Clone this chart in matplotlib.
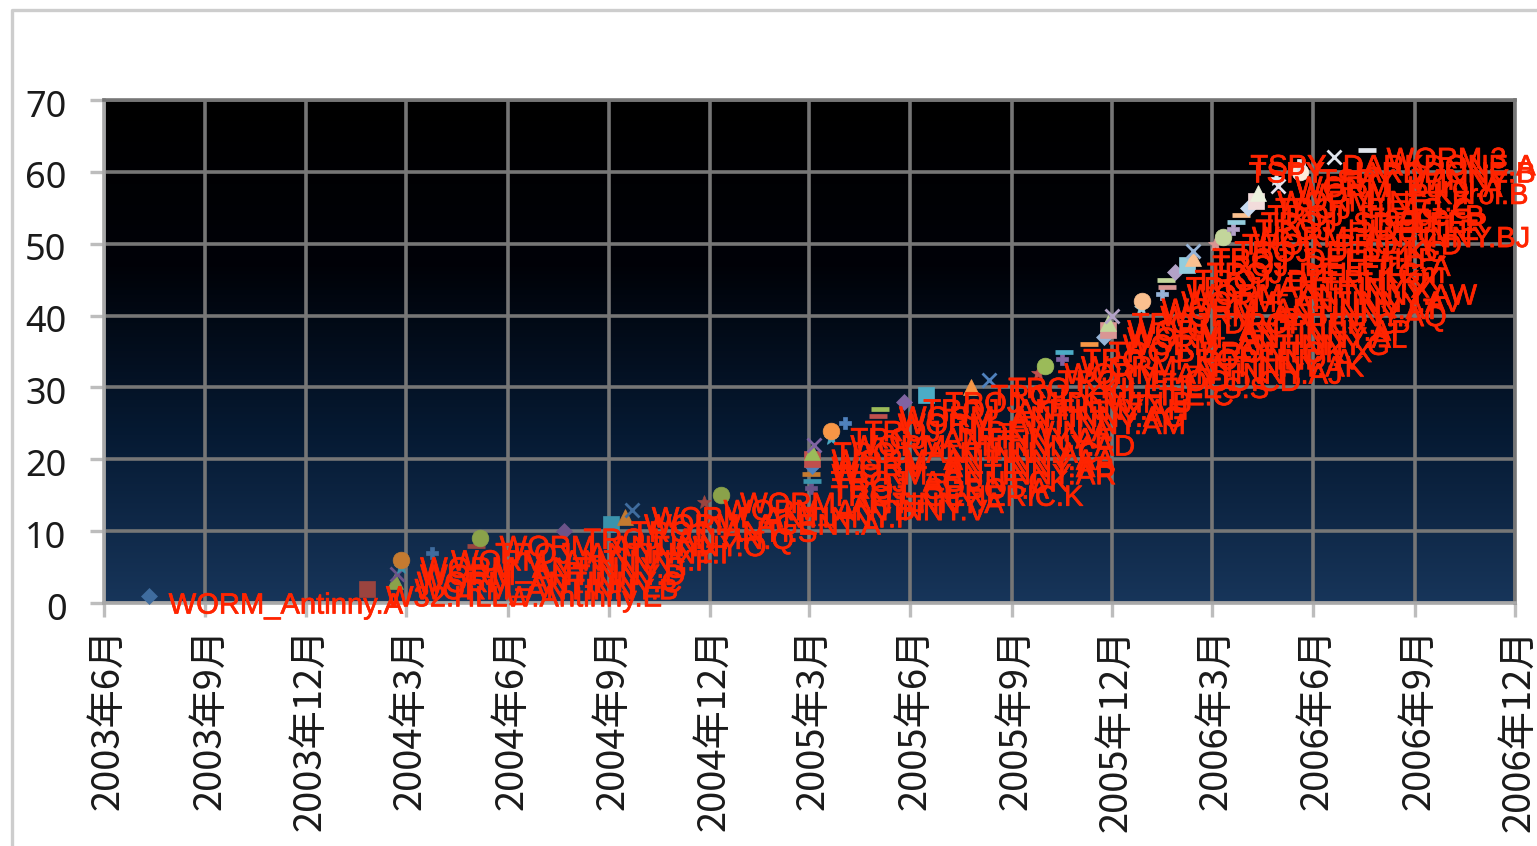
import matplotlib
matplotlib.use("Agg")
import matplotlib.pyplot as plt
import matplotlib.dates as mdates
import matplotlib.patheffects as pe
from matplotlib.transforms import ScaledTranslation
import numpy as np
import datetime as dt
from matplotlib.lines import Line2D
from matplotlib.colors import LinearSegmentedColormap

# Cumulative count of detected variants, one named sample per step
sample_names = [
    "WORM_Antinny.A", "W32.HLLW.Antinny.E", "WORM_ANTINNY.B", "WORM_ANTINNY.C", "WORM_ANTINNY.D",
    "WORM_ANTINNY.G", "WORM_ANTINNY.F", "TROJ_ANTINNY.I", "WORM_ANTINNY.O", "TROJ_ANTIN.Q",
    "TROJ_ANTI.S", "WORM_AGENT.A", "WORM_ANTINNY.P", "WORM_ANTINNY.V", "WORM_ANTINNY.A",
    "TROJ_GENERIC.K", "TROJ_SDBOT.A", "TROJ_AGENT.CK", "WORM_ANTINNY.AR", "WORM_ANTINNY.AB",
    "WORM_ANTINNY.AA", "TROJ_ANTINNY.AC", "WORM_ANTINNY.AD", "TROJ_ANTINNY.AE", "TROJ_HIDEWIN.A",
    "WORM_ANTINNY.AM", "WORM_ANTINNY.AG", "TROJ_ANTINNY.AH", "TROJ_HIDEWIN.B", "TROJ_KILLFILE.C",
    "TROJ_KILLFILES.S", "TROJ_FLOOD.CD", "WORM_ANTINNY.AJ", "WORM_ANTINNY.AK", "TROJ_PROPFIND.A",
    "TROJ_BRONTOK.X", "WORM_ANTINNY.G", "WORM_ANTINNY.AL", "WORM_ANTINNY.AP", "TROJ_DROPPER.G",
    "WORM_ANTINNY.AQ", "WORM_ANTINNY.AT", "WORM_ANTINNY.AV", "WORM_ANTINNY.AW", "TROJ_ANTINNY.X",
    "TROJ_DELPHI.KX", "TROJ_DELF.KGm", "TROJ_DELFILE.A", "TROJ_DELPHI.P", "TROJ_DELF.KC",
    "TROJ_PROXY.D", "WORM_ANTINNY.BJ", "TROJ_HIDEFILE", "TROJ_SDELFER", "TROJ_Flagger.B",
    "TROJ_FLAG.C", "WORM_NET.Z", "WORM_P.Kuroi.B", "WORM_Kuroi.A", "TSPY_WINNY",
    "TSPY_HARDDONE.B", "TSPY_DARKDONE.A", "WORM.3",
]
sample_dates = [
    "2003-07-12", "2004-01-25", "2004-02-20", "2004-02-22", "2004-02-25", "2004-02-25", "2004-03-24",
    "2004-05-03", "2004-05-07", "2004-07-22", "2004-09-03", "2004-09-15", "2004-09-22", "2004-11-26",
    "2004-12-11", "2005-03-03", "2005-03-04", "2005-03-03", "2005-03-04", "2005-03-04", "2005-03-04",
    "2005-03-06", "2005-03-21", "2005-03-21", "2005-04-03", "2005-05-03", "2005-05-04", "2005-05-26",
    "2005-06-15", "2005-07-26", "2005-08-11", "2005-09-25", "2005-10-01", "2005-10-16", "2005-10-18",
    "2005-11-10", "2005-11-23", "2005-11-27", "2005-11-27", "2005-12-01", "2005-12-27", "2005-12-28",
    "2006-01-15", "2006-01-20", "2006-01-19", "2006-01-27", "2006-02-07", "2006-02-12", "2006-02-12",
    "2006-03-04", "2006-03-11", "2006-03-20", "2006-03-23", "2006-03-28", "2006-04-03", "2006-04-10",
    "2006-04-12", "2006-04-30", "2006-04-28", "2006-05-20", "2006-05-19", "2006-06-20", "2006-07-20",
]
sample_counts = list(range(1, 64))

tick_months = [
    "2003-06", "2003-09", "2003-12", "2004-03", "2004-06", "2004-09", "2004-12", "2005-03",
    "2005-06", "2005-09", "2005-12", "2006-03", "2006-06", "2006-09", "2006-12",
]
y_ticks = [0, 10, 20, 30, 40, 50, 60, 70]

# Spreadsheet-style marker cycle and its colour ramps, lighter on each pass
marker_cycle = ["D", "s", "^", "x", "*", "o", "P", "_", "_", "D", "s", "^", "x", "*", "o", "P", "_", "_"]
marker_overrides = {9: "o", 62: "x"}
ramps = [
    ["#3f6c9e", "#9a443f", "#8aa24a", "#6b5389", "#3a93ac", "#c47a30"],
    ["#4f81bd", "#c0504d", "#9bbb59", "#8064a2", "#4bacc6", "#f79646"],
    ["#95b3d7", "#d99694", "#c3d69b", "#b3a2c7", "#93cddd", "#fac08f"],
    ["#c6d9f0", "#f2dcdb", "#ebf1dd", "#e5e0ec", "#dbeef3", "#fde9d9"],
]
marker_sizes = {"o": 12, "s": 11, "^": 11, "D": 8, "x": 10, "*": 10, "P": 9, "_": 13}
marker_edges = {"_": 3.4, "x": 2.0}

W, H = 1537, 846
L, R, T, B = 104, 1515, 100, 603
LABEL_LIMIT = 1535
LABEL_DX, LABEL_DY = 14, -7

plt.rcParams["font.family"] = ["Noto Sans CJK JP", "DejaVu Sans"]
fig = plt.figure(figsize=(W / 100, H / 100), dpi=100, facecolor="white")
ax = fig.add_axes([L / W, 1 - B / H, (R - L) / W, (B - T) / H])

dates = [dt.date.fromisoformat(d) for d in sample_dates]
tick_dates = [dt.date.fromisoformat(m + "-01") for m in tick_months]

# Dark vertical gradient behind the plot
cmap = LinearSegmentedColormap.from_list("night", ["#000000", "#000208", "#061a33", "#17355a"], N=256)
ax.imshow(np.linspace(0, 1, 256).reshape(-1, 1), cmap=cmap, aspect="auto", zorder=0,
          extent=(0, 1, 0, 1), transform=ax.transAxes)
ax.set_xlim(tick_dates[0], tick_dates[-1])
ax.set_ylim(0, 70)

ax.set_xticks([mdates.date2num(d) for d in tick_dates])
ax.set_yticks(y_ticks)
ax.grid(True, color="#767676", linewidth=2.6, zorder=1)
for s in ("top", "right"):
    ax.spines[s].set_color("#767676")
    ax.spines[s].set_linewidth(2.6)
for s in ("left", "bottom"):
    ax.spines[s].set_color("#a8a8a8")
    ax.spines[s].set_linewidth(2.6)
ax.tick_params(axis="both", length=10, width=2.4, color="#bdbdbd")
ax.tick_params(axis="x", pad=8)
ax.tick_params(axis="y", pad=17)

ax.set_xticklabels([f"{d.year}年{d.month}月" for d in tick_dates], rotation=90,
                   fontsize=27.5, color="#1a1a1a", ha="center", va="top")
ax.set_yticklabels([str(v) for v in y_ticks], fontsize=26, color="#1a1a1a", family="Noto Sans")
nudge_x = ScaledTranslation(4 / 100, 0, fig.dpi_scale_trans)
nudge_y = ScaledTranslation(0, -3 / 100, fig.dpi_scale_trans)
for lab in ax.get_xticklabels():
    lab.set_transform(lab.get_transform() + nudge_x)
for lab in ax.get_yticklabels():
    lab.set_transform(lab.get_transform() + nudge_y)

# One series per sample, each with its own marker and a red name beside it
labels = []
for i, (name, d, c) in enumerate(zip(sample_names, dates, sample_counts)):
    colour = ramps[min(i // 18, 3)][i % 6]
    if i >= 60:
        colour = "#dfe3ea"
    mk = marker_overrides.get(c, marker_cycle[i % 18])
    ax.plot([d], [c], marker=mk, markersize=marker_sizes[mk], color=colour, linestyle="none",
            markeredgewidth=marker_edges.get(mk, 0.5), zorder=3, clip_on=False)
    labels.append(ax.annotate(name, (d, c), xytext=(LABEL_DX, LABEL_DY), textcoords="offset points",
                              color="#ff2400", fontsize=21, family="Liberation Sans",
                              va="center", ha="left", zorder=4, annotation_clip=False,
                              path_effects=[pe.withStroke(linewidth=0.5, foreground="#ff2400")]))

# Labels that would run past the chart area slide back to the left
renderer = fig.canvas.get_renderer()
for lab in labels:
    over = lab.get_window_extent(renderer).x1 - LABEL_LIMIT
    if over > 0:
        lab.xyann = (LABEL_DX - over * 72 / fig.dpi, LABEL_DY)

# Thin chart-area frame along the top and left edges
fig.add_artist(Line2D([11.5 / W, 11.5 / W, 1], [0, 1 - 10.5 / H, 1 - 10.5 / H],
                      color="#cdcdcd", linewidth=2.4, transform=fig.transFigure))

fig.savefig("out.png", dpi=100, facecolor="white")
